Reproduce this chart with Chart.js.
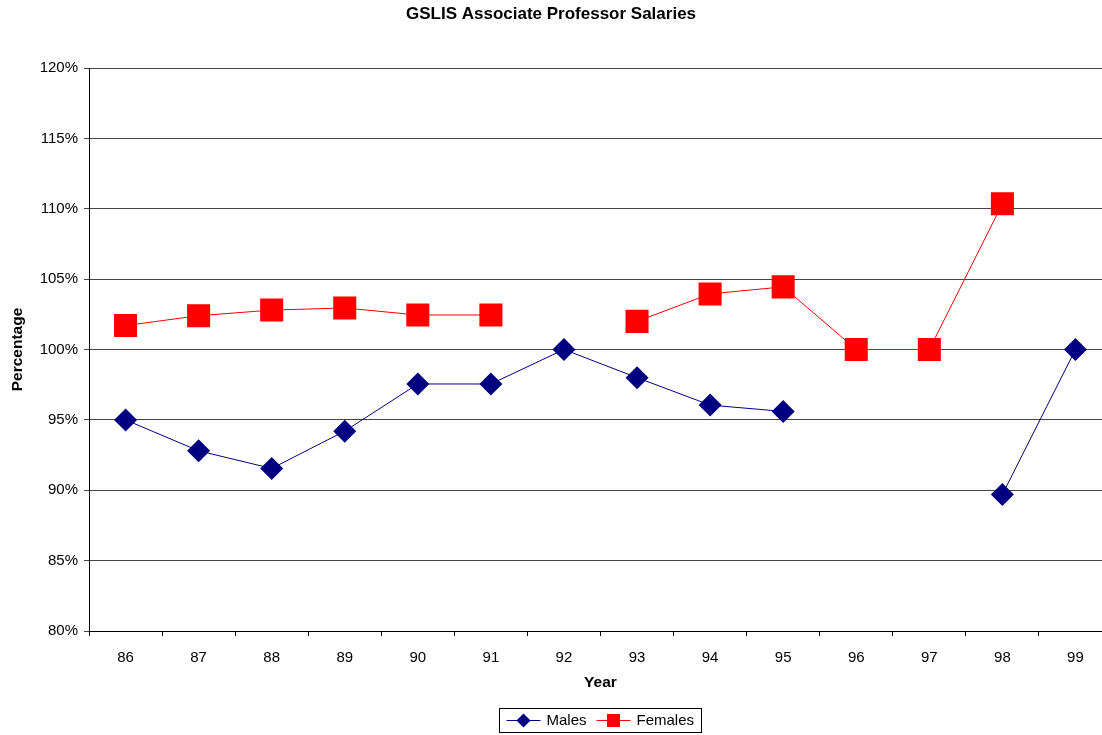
<!DOCTYPE html>
<html>
<head>
<meta charset="utf-8">
<script src="https://cdn.jsdelivr.net/npm/chart.js@4.4.0/dist/chart.umd.min.js"></script>
<style>
html,body{margin:0;padding:0;background:#fff;overflow:hidden;}
#wrap{width:1130px;height:735px;}
</style>
</head>
<body>
<div id="wrap"><canvas id="c" width="1130" height="735"></canvas></div>
<script>
const years = ['86','87','88','89','90','91','92','93','94','95','96','97','98','99'];
const males = [95.0, 92.8, 91.55, 94.2, 97.55, 97.55, 100, 98.0, 96.05, 95.6, null, null, 89.7, 100];
const females = [101.7, 102.4, 102.8, 102.95, 102.45, 102.45, null, 102.0, 103.95, 104.45, 100, 100, 110.35, null];
const yTicks = [80, 85, 90, 95, 100, 105, 110, 115, 120];
const chartTitle = 'GSLIS Associate Professor Salaries';
const xTitle = 'Year';
const yTitle = 'Percentage';

const FONT = 'Arial, "Liberation Sans", sans-serif';

const titlePlugin = {
  id: 'topTitle',
  afterDraw(chart) {
    const ctx = chart.ctx;
    ctx.save();
    ctx.font = 'bold 17px ' + FONT;
    ctx.fillStyle = '#000';
    ctx.textAlign = 'center';
    ctx.textBaseline = 'middle';
    ctx.fillText(chartTitle, 551, 14);
    ctx.restore();
  }
};

const legendPlugin = {
  id: 'boxLegend',
  afterDraw(chart) {
    const ctx = chart.ctx;
    const ds = chart.data.datasets;
    ctx.save();
    ctx.font = '15px ' + FONT;
    const lineLen = 34, gapText = 6, gapItem = 10, padX = 7;
    const widths = ds.map(d => lineLen + gapText + ctx.measureText(d.label).width);
    const total = widths.reduce((a, b) => a + b, 0) + gapItem * (ds.length - 1) + padX * 2;
    const cx = 600, top = 708, h = 24;
    const left = Math.round(cx - total / 2) + 0.5;
    ctx.strokeStyle = '#000';
    ctx.lineWidth = 1;
    ctx.strokeRect(left, top + 0.5, Math.round(total), h);
    let x = left + padX;
    const cy = top + h / 2 + 0.5;
    ds.forEach((d, i) => {
      ctx.strokeStyle = d.borderColor;
      ctx.lineWidth = 1;
      ctx.beginPath();
      ctx.moveTo(x, cy);
      ctx.lineTo(x + lineLen, cy);
      ctx.stroke();
      ctx.fillStyle = d.pointBackgroundColor;
      const mx = x + lineLen / 2;
      ctx.beginPath();
      if (d.pointStyle === 'rectRot') {
        const r = 7;
        ctx.moveTo(mx, cy - r); ctx.lineTo(mx + r, cy); ctx.lineTo(mx, cy + r); ctx.lineTo(mx - r, cy);
        ctx.closePath();
      } else {
        ctx.rect(mx - 6.5, cy - 6.5, 13, 13);
      }
      ctx.fill();
      ctx.fillStyle = '#000';
      ctx.textBaseline = 'middle';
      ctx.textAlign = 'left';
      ctx.fillText(d.label, x + lineLen + gapText, cy);
      x += widths[i] + gapItem;
    });
    ctx.restore();
  }
};

new Chart(document.getElementById('c'), {
  type: 'line',
  data: {
    labels: years,
    datasets: [
      {
        label: 'Males', data: males,
        borderColor: '#000080', backgroundColor: '#000080',
        pointBackgroundColor: '#000080', pointBorderColor: '#000080',
        pointStyle: 'rectRot', pointRadius: 11.5, pointBorderWidth: 0,
        borderWidth: 1, spanGaps: false, tension: 0
      },
      {
        label: 'Females', data: females,
        borderColor: '#FF0000', backgroundColor: '#FF0000',
        pointBackgroundColor: '#FF0000', pointBorderColor: '#FF0000',
        pointStyle: 'rect', pointRadius: 16.3, pointBorderWidth: 0,
        borderWidth: 1, spanGaps: false, tension: 0
      }
    ]
  },
  options: {
    responsive: false,
    animation: false,
    events: [],
    layout: { padding: { left: 0, right: 18, top: 68, bottom: 36 } },
    plugins: {
      legend: { display: false },
      tooltip: { enabled: false },
      title: { display: false }
    },
    scales: {
      x: {
        offset: true,
        grid: { display: true, drawOnChartArea: false, drawTicks: true, tickLength: 5, color: '#000', offset: true },
        border: { display: true, color: '#000', width: 1 },
        ticks: { color: '#000', font: { family: FONT, size: 15 }, padding: 13, maxRotation: 0, autoSkip: false },
        title: { display: true, text: xTitle, color: '#000', font: { family: FONT, size: 15.5, weight: 'bold' }, padding: { top: 4, bottom: 7 } },
        afterFit(scale) { scale.height = 68; scale.paddingLeft = 0; scale.paddingRight = 0; }
      },
      y: {
        min: 80, max: 120,
        afterBuildTicks(scale) { scale.ticks = yTicks.map(v => ({ value: v })); },
        grid: { display: true, drawOnChartArea: true, drawTicks: true, tickLength: 5, color: '#444', lineWidth: 1 },
        border: { display: true, color: '#000', width: 1 },
        ticks: { color: '#000', font: { family: FONT, size: 15 }, padding: 6, callback: v => v + '%' },
        title: { display: true, text: yTitle, color: '#000', font: { family: FONT, size: 15.5, weight: 'bold' }, padding: { top: 8, bottom: 0 } },
        afterFit(scale) { scale.width = 89; scale.paddingTop = 0; scale.paddingBottom = 0; }
      }
    }
  },
  plugins: [titlePlugin, legendPlugin]
});
</script>
</body>
</html>
